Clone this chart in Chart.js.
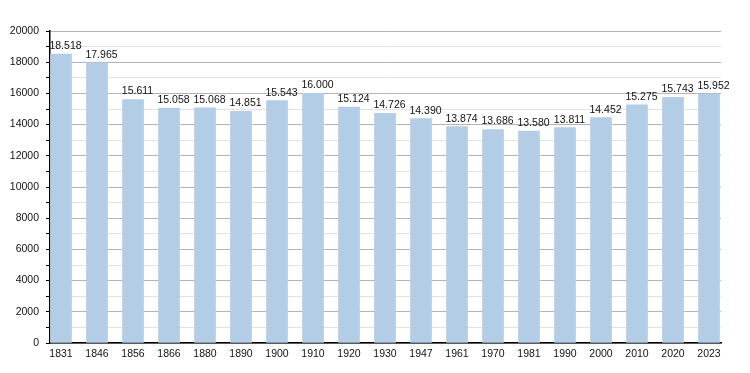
<!DOCTYPE html>
<html><head><meta charset="utf-8">
<script src="https://cdn.jsdelivr.net/npm/chart.js@4"></script>
<style>html,body{margin:0;padding:0;background:#fff}#w{width:750px;height:373px}</style>
</head><body><div id="w"><canvas id="c" width="750" height="373"></canvas></div>
<script>
const years = ["1831","1846","1856","1866","1880","1890","1900","1910","1920","1930","1947","1961","1970","1981","1990","2000","2010","2020","2023"];
const population = [18518,17965,15611,15058,15068,14851,15543,16000,15124,14726,14390,13874,13686,13580,13811,14452,15275,15743,15952];
const yMax = 20000;

const fmt = v => String(v).replace(/\B(?=(\d{3})+(?!\d))/g, ".");

const labelPlugin = {
  id: 'vlabels',
  afterDatasetsDraw(chart) {
    const ctx = chart.ctx;
    const meta = chart.getDatasetMeta(0);
    ctx.save();
    ctx.font = '10.5px "Liberation Sans", Arial, sans-serif';
    ctx.fillStyle = '#111';
    ctx.textAlign = 'center';
    ctx.textBaseline = 'alphabetic';
    meta.data.forEach((bar, i) => {
      ctx.fillText(fmt(population[i]), bar.x + 4.5, bar.y - 5);
    });
    ctx.restore();
  }
};

new Chart(document.getElementById('c'), {
  type: 'bar',
  data: {
    datasets: [{
      data: population.map((v, i) => ({x: i, y: v})),
      backgroundColor: '#b3cde7',
      borderWidth: 0,
      barThickness: 21
    }]
  },
  options: {
    responsive: false,
    animation: false,
    devicePixelRatio: 1,
    layout: {padding: {top: 31, right: 29, left: 0, bottom: 0}},
    plugins: {legend: {display: false}, tooltip: {enabled: false}},
    scales: {
      x: {
        type: 'linear',
        min: -11/36,
        max: 660/36,
        offset: false,
        grid: {display: false, drawTicks: false},
        border: {display: true, color: '#000', width: 1.5},
        afterFit: s => { s.height = 30; },
        afterBuildTicks: s => { s.ticks = years.map((y, i) => ({value: i})); },
        ticks: {
          includeBounds: false,
          stepSize: 1,
          autoSkip: false,
          maxRotation: 0,
          padding: 5,
          color: '#111',
          font: {family: '"Liberation Sans", Arial, sans-serif', size: 10.5},
          callback: v => years[v] ?? ''
        }
      },
      y: {
        min: 0,
        max: yMax,
        afterFit: s => { s.width = 50; },
        border: {display: true, color: '#000', width: 1.5},
        grid: {
          color: c => (c.tick.value % 2000 === 0 ? '#b4b4b4' : '#e2e2e2'),
          tickColor: '#000',
          tickLength: 4,
          drawTicks: true,
          lineWidth: 1
        },
        ticks: {
          stepSize: 1000,
          autoSkip: false,
          padding: 7,
          color: '#111',
          font: {family: '"Liberation Sans", Arial, sans-serif', size: 10.5},
          callback: v => (v % 2000 === 0 ? String(v) : '')
        }
      }
    }
  },
  plugins: [labelPlugin]
});
</script></body></html>
